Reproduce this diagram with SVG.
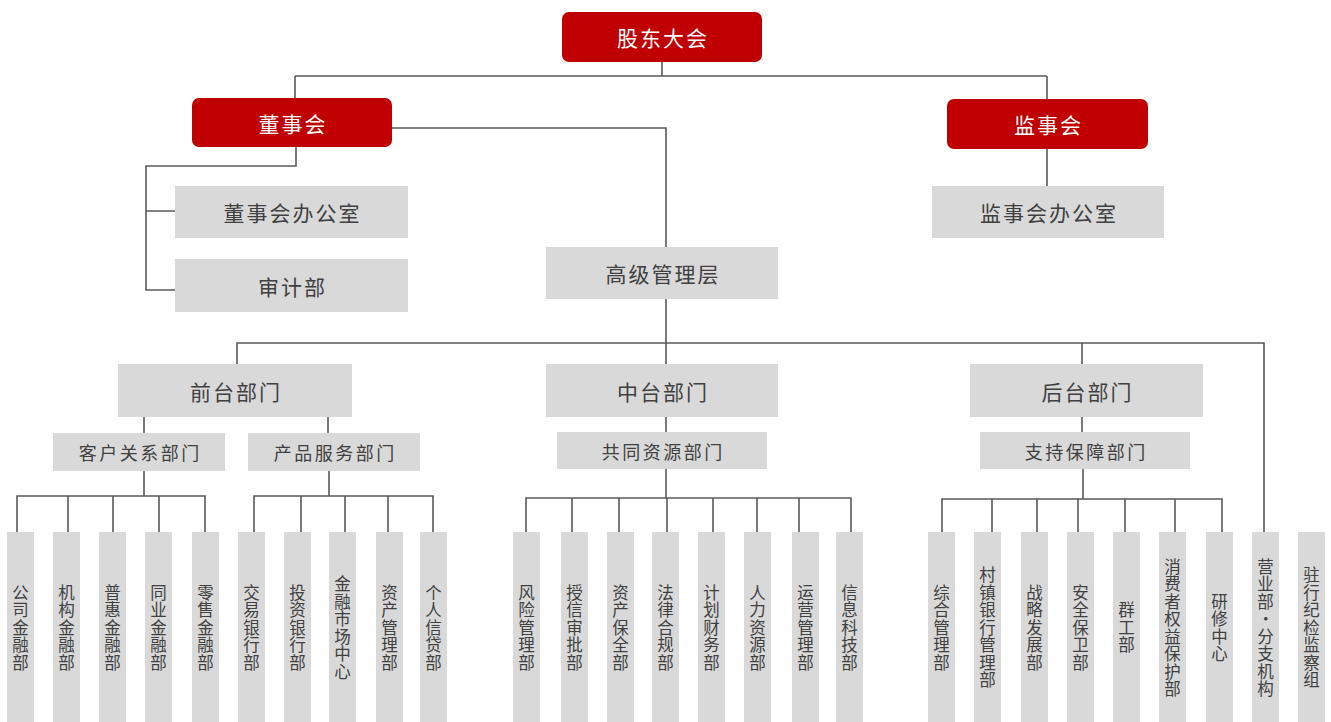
<svg xmlns="http://www.w3.org/2000/svg" width="1331" height="722" viewBox="0 0 1331 722">
<style>
.red{fill:#c00000}
.box{fill:#d9d9d9}
.t{font-family:"Noto Sans CJK SC","Noto Sans CJK JP",sans-serif;text-anchor:middle;dominant-baseline:central}
.tw{fill:#ffffff;font-size:21px;letter-spacing:2px}
.tm{fill:#404040;font-size:21px;letter-spacing:2px}
.ts{fill:#404040;font-size:18px;letter-spacing:2.5px}
.tv{font-family:"Noto Sans CJK SC","Noto Sans CJK JP",sans-serif;text-anchor:middle;fill:#404040;font-size:16.5px;letter-spacing:1px;writing-mode:vertical-rl}
.ln{fill:none;stroke:#595959;stroke-width:1.6}
</style>
<rect width="1331" height="722" fill="#ffffff"/>
<g id="connectors" class="ln">
<path d="M662,62 V76 M295,76 H1047 M295,76 V98 M1047,76 V99"/>
<path d="M392,128 H666 V247"/>
<path d="M296,147 V166 H146 V290 H175 M146,211 H175"/>
<path d="M1047,149 V186"/>
<path d="M666,299 V364 M237,364 V343 H1264 V532 M1082,343 V364"/>
<path d="M144,417 V433 M328,417 V433"/>
<path d="M144,471 V496 M17,532 V496 H205 V532 M68,496 V532 M113,496 V532 M159,496 V532"/>
<path d="M329,471 V496 M254,532 V496 H433 V532 M301,496 V532 M345,496 V532 M388,496 V532"/>
<path d="M666,417 V432 M666,469 V498 M526,532 V498 H851 V532 M572,498 V532 M619,498 V532 M667,498 V532 M713,498 V532 M757,498 V532 M799,498 V532"/>
<path d="M1082,417 V432 M1083,469 V499 M942,532 V499 H1222 V532 M992,499 V532 M1037,499 V532 M1078,499 V532 M1125,499 V532 M1175,499 V532"/>
</g>
<g id="n-gudong"><rect class="red" x="562" y="12" width="200" height="50" rx="7"/><text class="t tw" x="663" y="37">股东大会</text></g>
<g id="n-dongshihui"><rect class="red" x="192" y="98" width="200" height="49" rx="7"/><text class="t tw" x="293" y="123">董事会</text></g>
<g id="n-jianshihui"><rect class="red" x="947" y="99" width="201" height="50" rx="7"/><text class="t tw" x="1048.5" y="124">监事会</text></g>
<g id="n-dsbgs"><rect class="box" x="175" y="186" width="233" height="52"/><text class="t tm" x="292.5" y="212">董事会办公室</text></g>
<g id="n-shenji"><rect class="box" x="175" y="259" width="233" height="53"/><text class="t tm" x="292.5" y="285.5">审计部</text></g>
<g id="n-jsbgs"><rect class="box" x="932" y="186" width="232" height="52"/><text class="t tm" x="1049" y="212">监事会办公室</text></g>
<g id="n-gaoji"><rect class="box" x="546" y="247" width="232" height="52"/><text class="t tm" x="663" y="273">高级管理层</text></g>
<g id="n-qiantai"><rect class="box" x="118" y="364" width="234" height="53"/><text class="t tm" x="236" y="390.5">前台部门</text></g>
<g id="n-zhongtai"><rect class="box" x="546" y="364" width="232" height="53"/><text class="t tm" x="663" y="390.5">中台部门</text></g>
<g id="n-houtai"><rect class="box" x="970" y="364" width="233" height="53"/><text class="t tm" x="1087.5" y="390.5">后台部门</text></g>
<g id="n-kehu"><rect class="box" x="53" y="433" width="172" height="38"/><text class="t ts" x="140.2" y="452">客户关系部门</text></g>
<g id="n-chanpin"><rect class="box" x="248" y="433" width="172" height="38"/><text class="t ts" x="335.2" y="452">产品服务部门</text></g>
<g id="n-gongtong"><rect class="box" x="557" y="432" width="210" height="37"/><text class="t ts" x="663.2" y="450.5">共同资源部门</text></g>
<g id="n-zhichi"><rect class="box" x="980" y="432" width="210" height="37"/><text class="t ts" x="1086.2" y="450.5">支持保障部门</text></g>
<g id="c1"><rect class="box" x="7" y="532" width="27" height="190"/><text class="tv" x="20.5" y="628">公司金融部</text></g>
<g id="c2"><rect class="box" x="53" y="532" width="27" height="190"/><text class="tv" x="66.5" y="628">机构金融部</text></g>
<g id="c3"><rect class="box" x="99" y="532" width="27" height="190"/><text class="tv" x="112.5" y="628">普惠金融部</text></g>
<g id="c4"><rect class="box" x="145" y="532" width="27" height="190"/><text class="tv" x="158.5" y="628">同业金融部</text></g>
<g id="c5"><rect class="box" x="192" y="532" width="27" height="190"/><text class="tv" x="205.5" y="628">零售金融部</text></g>
<g id="c6"><rect class="box" x="238" y="532" width="27" height="190"/><text class="tv" x="251.5" y="628">交易银行部</text></g>
<g id="c7"><rect class="box" x="284" y="532" width="27" height="190"/><text class="tv" x="297.5" y="628">投资银行部</text></g>
<g id="c8"><rect class="box" x="329" y="532" width="27" height="190"/><text class="tv" x="342.5" y="628">金融市场中心</text></g>
<g id="c9"><rect class="box" x="376" y="532" width="27" height="190"/><text class="tv" x="389.5" y="628">资产管理部</text></g>
<g id="c10"><rect class="box" x="420" y="532" width="27" height="190"/><text class="tv" x="433.5" y="628">个人信贷部</text></g>
<g id="c11"><rect class="box" x="513" y="532" width="27" height="190"/><text class="tv" x="526.5" y="628">风险管理部</text></g>
<g id="c12"><rect class="box" x="561" y="532" width="27" height="190"/><text class="tv" x="574.5" y="628">授信审批部</text></g>
<g id="c13"><rect class="box" x="607" y="532" width="27" height="190"/><text class="tv" x="620.5" y="628">资产保全部</text></g>
<g id="c14"><rect class="box" x="652" y="532" width="27" height="190"/><text class="tv" x="665.5" y="628">法律合规部</text></g>
<g id="c15"><rect class="box" x="698" y="532" width="27" height="190"/><text class="tv" x="711.5" y="628">计划财务部</text></g>
<g id="c16"><rect class="box" x="744" y="532" width="27" height="190"/><text class="tv" x="757.5" y="628">人力资源部</text></g>
<g id="c17"><rect class="box" x="792" y="532" width="27" height="190"/><text class="tv" x="805.5" y="628">运营管理部</text></g>
<g id="c18"><rect class="box" x="836" y="532" width="27" height="190"/><text class="tv" x="849.5" y="628">信息科技部</text></g>
<g id="c19"><rect class="box" x="928" y="532" width="27" height="190"/><text class="tv" x="941.5" y="628">综合管理部</text></g>
<g id="c20"><rect class="box" x="974" y="532" width="27" height="190"/><text class="tv" x="987.5" y="628">村镇银行管理部</text></g>
<g id="c21"><rect class="box" x="1021" y="532" width="27" height="190"/><text class="tv" x="1034.5" y="628">战略发展部</text></g>
<g id="c22"><rect class="box" x="1067" y="532" width="27" height="190"/><text class="tv" x="1080.5" y="628">安全保卫部</text></g>
<g id="c23"><rect class="box" x="1113" y="532" width="27" height="190"/><text class="tv" x="1126.5" y="628">群工部</text></g>
<g id="c24"><rect class="box" x="1159" y="532" width="27" height="190"/><text class="tv" x="1172.5" y="628">消费者权益保护部</text></g>
<g id="c25"><rect class="box" x="1206" y="532" width="27" height="190"/><text class="tv" x="1219.5" y="628">研修中心</text></g>
<g id="c26"><rect class="box" x="1252" y="532" width="27" height="190"/><text class="tv" x="1265.5" y="628">营业部•分支机构</text></g>
<g id="c27"><rect class="box" x="1298" y="532" width="27" height="190"/><text class="tv" x="1311.5" y="628">驻行纪检监察组</text></g>
</svg>
